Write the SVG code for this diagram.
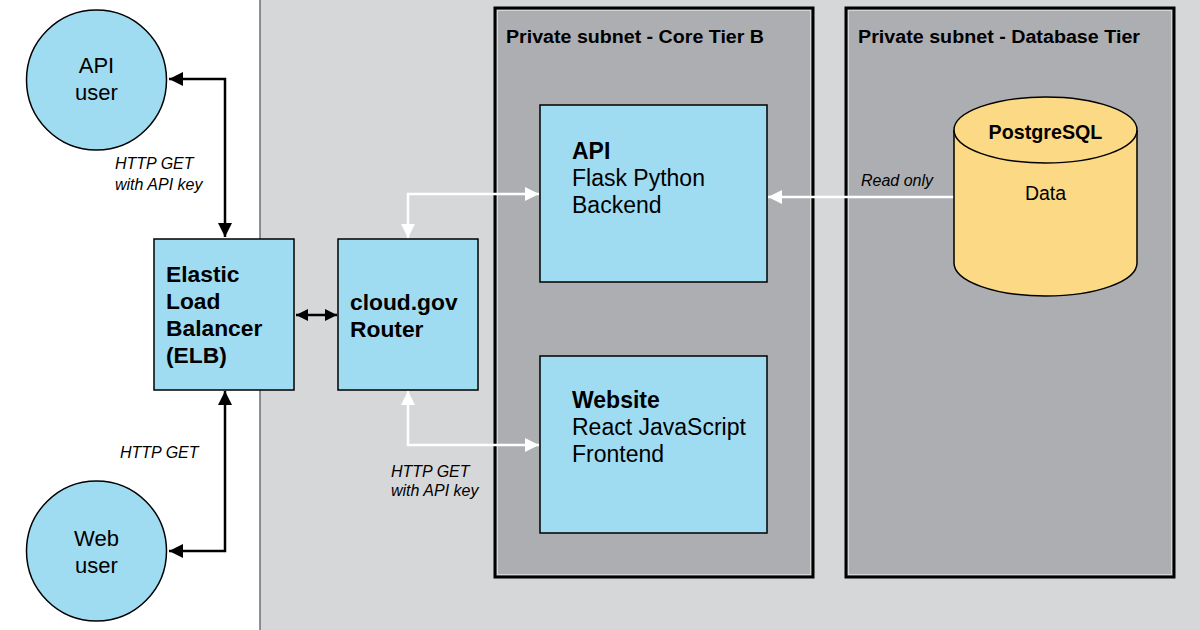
<svg xmlns="http://www.w3.org/2000/svg" width="1200" height="630" viewBox="0 0 1200 630">
<defs>
<style>
.t{font-family:"Liberation Sans",Arial,sans-serif;fill:#000}
.b{font-weight:bold}
.i{font-style:italic;font-size:16px}
.node{fill:#9fdcf2;stroke:#000;stroke-width:1.5}
.tier{fill:#adaeb2;stroke:#000;stroke-width:3}
.tierin{fill:none;stroke:#d4d5d7;stroke-width:1}
.cb{fill:none;stroke:#000;stroke-width:2.5}
.cw{fill:none;stroke:#fff;stroke-width:2.5}
</style>
<marker id="ab" markerUnits="userSpaceOnUse" markerWidth="14" markerHeight="14" refX="14" refY="7" orient="auto-start-reverse"><path d="M0,0 L14,7 L0,14 z" fill="#000"/></marker>
<marker id="abs" markerUnits="userSpaceOnUse" markerWidth="12" markerHeight="12" refX="12" refY="6" orient="auto-start-reverse"><path d="M0,0 L12,6 L0,12 z" fill="#000"/></marker>
<marker id="aw" markerUnits="userSpaceOnUse" markerWidth="14" markerHeight="14" refX="14" refY="7" orient="auto-start-reverse"><path d="M0,0 L14,7 L0,14 z" fill="#fff"/></marker>
</defs>
<rect x="0" y="0" width="1200" height="630" fill="#fff"/>
<rect x="260" y="0" width="940" height="630" fill="#d6d7d9"/>
<line x1="260" y1="0" x2="260" y2="630" stroke="#6e6f72" stroke-width="1.5"/>

<g id="tier-core">
<rect class="tier" x="495" y="8" width="318" height="569"/>
<rect class="tierin" x="497.5" y="10.5" width="313" height="564"/>
<text class="t b" x="506" y="43" font-size="17.5" textLength="258" lengthAdjust="spacingAndGlyphs">Private subnet - Core Tier B</text>
</g>
<g id="tier-db">
<rect class="tier" x="846" y="8" width="328" height="569"/>
<rect class="tierin" x="848.5" y="10.5" width="323" height="564"/>
<text class="t b" x="858" y="43" font-size="17.5" textLength="282" lengthAdjust="spacingAndGlyphs">Private subnet - Database Tier</text>
</g>

<g id="connectors">
<path class="cb" d="M169,79 H225 V237" marker-start="url(#ab)" marker-end="url(#ab)"/>
<path class="cb" d="M225,391 V551 H169" marker-start="url(#ab)" marker-end="url(#ab)"/>
<path class="cb" d="M296,315 H337" marker-start="url(#abs)" marker-end="url(#abs)"/>
<path class="cw" d="M408,238 V194 H539" marker-start="url(#aw)" marker-end="url(#aw)"/>
<path class="cw" d="M408,391 V445 H539" marker-start="url(#aw)" marker-end="url(#aw)"/>
<path class="cw" d="M954,197 H768" marker-end="url(#aw)"/>
<text class="t i" x="115" y="169">HTTP GET</text>
<text class="t i" x="115" y="190">with API key</text>
<text class="t i" x="120" y="458">HTTP GET</text>
<text class="t i" x="391" y="477">HTTP GET</text>
<text class="t i" x="391" y="496">with API key</text>
<text class="t i" x="861" y="186" font-size="16.5">Read only</text>
</g>

<g id="api-user">
<circle class="node" cx="96.5" cy="80" r="70"/>
<text class="t" x="96.5" y="73" font-size="22" text-anchor="middle">API</text>
<text class="t" x="96.5" y="100" font-size="22" text-anchor="middle">user</text>
</g>
<g id="web-user">
<circle class="node" cx="96.5" cy="551" r="70"/>
<text class="t" x="96.5" y="546" font-size="22" text-anchor="middle">Web</text>
<text class="t" x="96.5" y="573" font-size="22" text-anchor="middle">user</text>
</g>
<g id="elb">
<rect class="node" x="154" y="239" width="140" height="151"/>
<text class="t b" x="166" y="282" font-size="22.8">Elastic</text>
<text class="t b" x="166" y="309" font-size="22.8">Load</text>
<text class="t b" x="166" y="336" font-size="22.8">Balancer</text>
<text class="t b" x="166" y="363" font-size="22.8">(ELB)</text>
</g>
<g id="router">
<rect class="node" x="338" y="239" width="140" height="151"/>
<text class="t b" x="350" y="310" font-size="22.8">cloud.gov</text>
<text class="t b" x="350" y="337" font-size="22.8">Router</text>
</g>
<g id="api">
<rect class="node" x="540" y="105" width="227" height="177"/>
<text class="t b" x="572" y="159" font-size="23">API</text>
<text class="t" x="572" y="186" font-size="23">Flask Python</text>
<text class="t" x="572" y="213" font-size="23">Backend</text>
</g>
<g id="website">
<rect class="node" x="540" y="356" width="227" height="177"/>
<text class="t b" x="572" y="408" font-size="23">Website</text>
<text class="t" x="572" y="435" font-size="23">React JavaScript</text>
<text class="t" x="572" y="462" font-size="23">Frontend</text>
</g>
<g id="postgres">
<path d="M954,130 V263 A91.5,33 0 0 0 1137,263 V130" fill="#fbd985" stroke="#000" stroke-width="1.5"/>
<ellipse cx="1045.5" cy="130" rx="91.5" ry="33" fill="#fbd985" stroke="#000" stroke-width="1.5"/>
<text class="t b" x="1045.5" y="139" font-size="19.7" text-anchor="middle">PostgreSQL</text>
<text class="t" x="1045.5" y="200" font-size="19.5" text-anchor="middle">Data</text>
</g>
</svg>
